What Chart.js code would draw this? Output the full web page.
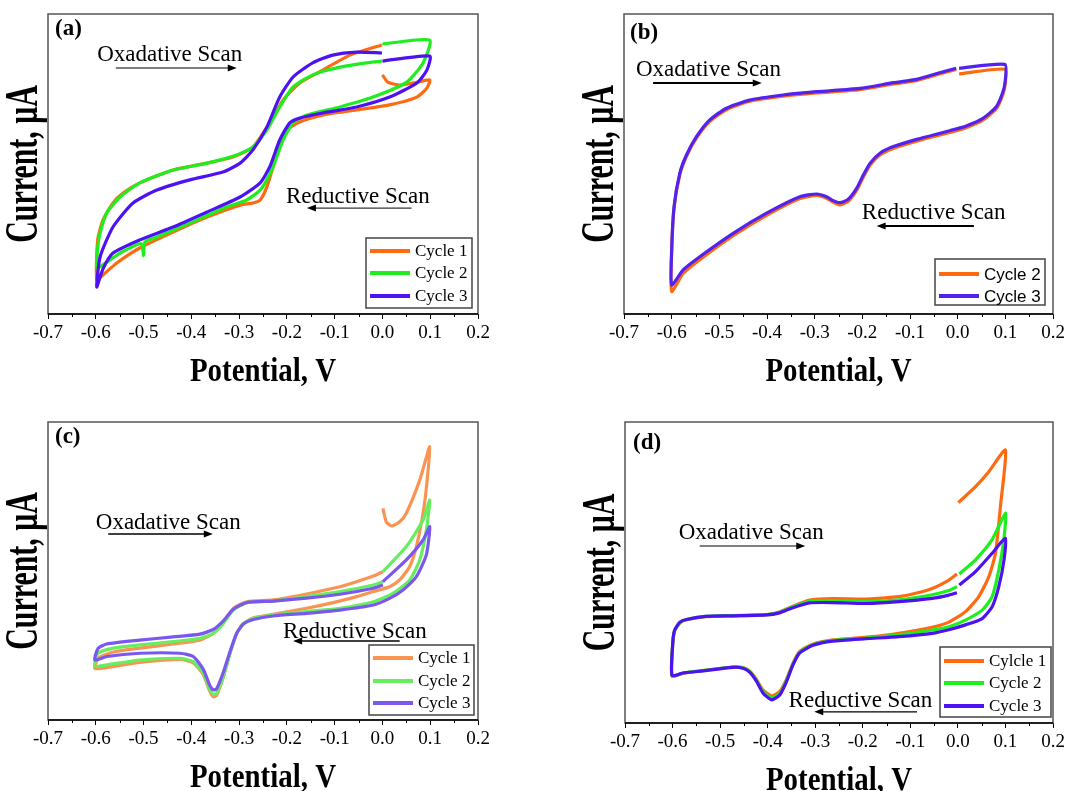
<!DOCTYPE html>
<html>
<head>
<meta charset="utf-8">
<script src="https://cdn.jsdelivr.net/npm/chart.js@4.4.1/dist/chart.umd.min.js"></script>
<style>
  body { margin: 0; background: #fff; width: 1069px; height: 791px; overflow: hidden; position: relative; }
  .panel { position: absolute; }
</style>
</head>
<body>
<div class="panel" style="left:0;top:0;width:540px;height:400px"><canvas id="chartA"></canvas></div>
<div class="panel" style="left:540px;top:0;width:529px;height:400px"><canvas id="chartB"></canvas></div>
<div class="panel" style="left:0;top:400px;width:540px;height:391px"><canvas id="chartC"></canvas></div>
<div class="panel" style="left:540px;top:400px;width:529px;height:391px"><canvas id="chartD"></canvas></div>
<script>
// x ticks (V)
const xTickMin = -0.7, xTickMax = 0.2, xTickStep = 0.1;

// ---- panel (a) ----
const aLabels = ['Cycle 1', 'Cycle 2', 'Cycle 3'];
const aCycle1V = [0.0, 0.011, 0.036, 0.064, 0.099, 0.093, 0.072, 0.015, -0.054, -0.125, -0.173, -0.200, -0.215, -0.229, -0.242, -0.256, -0.271, -0.298, -0.367, -0.438, -0.508, -0.556, -0.585, -0.598, -0.596, -0.585, -0.564, -0.543, -0.508, -0.438, -0.367, -0.313, -0.271, -0.236, -0.208, -0.173, -0.125, -0.068, -0.001];
const aCycle1I = [79.7, 77.3, 76.3, 77, 78, 75.3, 72.3, 69.7, 68, 66.3, 64, 61.3, 57, 49, 42.3, 38, 37, 36.3, 32.3, 27.3, 22, 17, 13, 11.3, 24.7, 31.3, 37, 40.3, 43.7, 48, 50.3, 52.3, 55.7, 63.7, 71.3, 77, 81.3, 86.3, 89.7];
const aCycle2V = [0.0, 0.099, 0.085, 0.051, -0.020, -0.089, -0.158, -0.187, -0.208, -0.229, -0.242, -0.256, -0.284, -0.326, -0.403, -0.472, -0.497, -0.500, -0.505, -0.549, -0.577, -0.598, -0.596, -0.591, -0.577, -0.549, -0.508, -0.438, -0.367, -0.305, -0.271, -0.242, -0.215, -0.187, -0.146, -0.089, -0.020, -0.001];
const aCycle2I = [90, 91.3, 83.7, 77.3, 72.3, 69, 66.3, 63.7, 58, 49, 44.7, 41.3, 38, 35.7, 30.3, 25.7, 24, 19.5, 23.5, 20.3, 17.3, 15.3, 22, 27, 33.7, 39, 43.7, 48, 50.3, 53, 55.7, 61.3, 69, 75.7, 79.7, 82.3, 84, 84.3];
const aCycle3V = [0.0, 0.099, 0.093, 0.072, 0.015, -0.054, -0.125, -0.173, -0.194, -0.215, -0.236, -0.256, -0.298, -0.367, -0.438, -0.508, -0.564, -0.585, -0.598, -0.591, -0.564, -0.522, -0.472, -0.403, -0.334, -0.298, -0.271, -0.242, -0.215, -0.187, -0.146, -0.104, -0.054, -0.001];
const aCycle3I = [84.3, 86, 81.3, 77, 72.3, 69, 67, 65.3, 63.7, 58, 49, 43.7, 39, 34, 29, 24.7, 20.3, 15, 9, 19, 29, 37, 41.3, 44.7, 47.3, 50.3, 54.7, 62.3, 72.3, 79, 83.7, 86.3, 87.3, 87];

// ---- panel (b) ----
const bLabels = ['Cycle 2', 'Cycle 3'];
const bCycle2V = [0.003, 0.099, 0.1, 0.095, 0.081, 0.053, 0.018, -0.017, -0.086, -0.135, -0.163, -0.184, -0.198, -0.212, -0.230, -0.247, -0.261, -0.275, -0.296, -0.331, -0.401, -0.471, -0.541, -0.576, -0.600, -0.600, -0.595, -0.583, -0.569, -0.548, -0.520, -0.485, -0.436, -0.366, -0.296, -0.205, -0.135, -0.086, -0.038, -0.003];
const bCycle2I = [80, 81.6, 77, 73.3, 68.4, 64.6, 62.1, 60.5, 57.6, 55.2, 53, 49.6, 45.6, 41.2, 37.5, 36.4, 37.2, 38.6, 39.5, 38.5, 32.9, 26.1, 18.1, 13.5, 7.5, 20.5, 35.3, 46.4, 52.5, 58.6, 64.2, 68.1, 70.9, 72.6, 73.7, 74.8, 76.7, 77.8, 80, 81.5];
const bCycle3V = [0.003, 0.099, 0.1, 0.095, 0.081, 0.053, 0.018, -0.017, -0.086, -0.135, -0.163, -0.184, -0.198, -0.212, -0.230, -0.247, -0.261, -0.275, -0.296, -0.331, -0.401, -0.471, -0.541, -0.576, -0.600, -0.600, -0.595, -0.583, -0.569, -0.548, -0.520, -0.485, -0.436, -0.366, -0.296, -0.205, -0.135, -0.086, -0.038, -0.003];
const bCycle3I = [81.9, 83.2, 78, 74.1, 69.1, 65.2, 62.7, 61.1, 58.2, 55.8, 53.6, 50.2, 46.3, 41.9, 38.2, 37.1, 37.8, 39.1, 40, 39.1, 33.6, 26.9, 19.1, 14.7, 9.7, 21.3, 35.8, 46.9, 53, 59.1, 64.7, 68.6, 71.3, 73, 74.1, 75.2, 77.1, 78.2, 80.4, 81.9];

// ---- panel (c) ----
const cLabels = ['Cycle 1', 'Cycle 2', 'Cycle 3'];
const cCycle1V = [0.001, 0.008, 0.019, 0.036, 0.050, 0.078, 0.099, 0.092, 0.085, 0.071, 0.057, 0.036, 0.015, -0.019, -0.054, -0.103, -0.159, -0.229, -0.270, -0.291, -0.305, -0.319, -0.333, -0.347, -0.354, -0.361, -0.375, -0.396, -0.424, -0.508, -0.577, -0.602, -0.595, -0.563, -0.508, -0.438, -0.382, -0.354, -0.333, -0.312, -0.284, -0.229, -0.159, -0.089, -0.054, -0.019, 0.001];
const cCycle1I = [71.0, 66.5, 65.1, 66.5, 69.4, 80.5, 91.7, 78, 69.4, 58.2, 51.5, 47.0, 44.7, 43.1, 41.4, 39.4, 37.5, 35.5, 34.3, 32.4, 29.1, 22.4, 14.5, 8.3, 7.8, 9.5, 15.2, 19.2, 20.3, 19.3, 17.6, 17.3, 20.7, 22.8, 24.1, 25.5, 26.8, 29.1, 32.9, 37.5, 39.7, 40.3, 42.3, 44.7, 46.4, 48.3, 49.8];
const cCycle2V = [0.001, 0.050, 0.085, 0.099, 0.092, 0.078, 0.057, 0.022, -0.019, -0.089, -0.159, -0.229, -0.270, -0.291, -0.305, -0.319, -0.333, -0.347, -0.354, -0.361, -0.375, -0.396, -0.424, -0.508, -0.577, -0.602, -0.595, -0.563, -0.508, -0.438, -0.382, -0.354, -0.333, -0.312, -0.284, -0.229, -0.159, -0.089, -0.019, 0.001];
const cCycle2I = [49.8, 58.2, 67.1, 73.8, 63.8, 53.7, 47.0, 42.5, 39.7, 37.5, 36.4, 35.2, 34.1, 32.4, 29.1, 22.4, 14.5, 9.0, 8.6, 10.1, 15.7, 19.6, 20.7, 20.1, 18.5, 18.1, 22.4, 24.1, 25.2, 26.3, 27.4, 29.1, 32.4, 36.9, 39.4, 39.9, 41.4, 43.1, 45.3, 46.4];
const cCycle3V = [0.001, 0.050, 0.085, 0.099, 0.092, 0.071, 0.043, 0.015, -0.019, -0.089, -0.159, -0.229, -0.270, -0.291, -0.305, -0.319, -0.333, -0.347, -0.354, -0.361, -0.375, -0.396, -0.424, -0.508, -0.577, -0.602, -0.595, -0.577, -0.508, -0.438, -0.382, -0.354, -0.333, -0.312, -0.284, -0.229, -0.159, -0.089, -0.019, 0.001];
const cCycle3I = [46.4, 53.7, 60.4, 64.9, 55.5, 48.1, 43.6, 40.8, 38.6, 36.9, 35.8, 34.9, 33.7, 32.2, 29.1, 23, 16, 10.5, 10.1, 11.5, 17, 21.3, 22.4, 22.4, 21.3, 20.1, 24.1, 25.5, 26.8, 27.9, 28.8, 30.4, 33.3, 37.2, 39.4, 39.9, 40.9, 42.2, 44.2, 45.3];

// ---- panel (d) ----
const dLabels = ['Cylcle 1', 'Cycle 2', 'Cycle 3'];
const dCycle1V = [0.001, 0.037, 0.065, 0.1, 0.090, 0.079, 0.065, 0.044, 0.016, -0.019, -0.054, -0.124, -0.193, -0.263, -0.305, -0.333, -0.347, -0.361, -0.375, -0.392, -0.410, -0.424, -0.438, -0.452, -0.473, -0.543, -0.578, -0.601, -0.600, -0.596, -0.585, -0.573, -0.531, -0.473, -0.403, -0.375, -0.347, -0.312, -0.263, -0.193, -0.124, -0.089, -0.054, -0.019, -0.002];
const dCycle1I = [73.2, 78.5, 83.5, 90.7, 72.8, 56.4, 48.6, 42.0, 37.0, 33.5, 31.8, 29.8, 28.5, 27.6, 26.2, 23.7, 19.8, 14.3, 10.4, 9.0, 11.0, 14.6, 17.3, 18.4, 18.6, 17.3, 16.5, 15.6, 25.4, 30.5, 33.2, 34.2, 35.3, 35.6, 35.9, 36.9, 38.8, 40.8, 41.3, 41.2, 42.0, 43.1, 44.7, 47.5, 49.5];
const dCycle2V = [0.003, 0.037, 0.072, 0.1, 0.097, 0.086, 0.072, 0.051, 0.016, -0.019, -0.054, -0.124, -0.193, -0.263, -0.305, -0.333, -0.347, -0.361, -0.375, -0.392, -0.410, -0.424, -0.438, -0.452, -0.473, -0.543, -0.578, -0.601, -0.600, -0.596, -0.585, -0.573, -0.531, -0.473, -0.403, -0.375, -0.347, -0.312, -0.263, -0.193, -0.124, -0.054, -0.019, -0.002];
const dCycle2I = [49.5, 54.2, 60.9, 69.7, 61.4, 50.8, 42.0, 37.5, 34.2, 32.0, 30.9, 29.3, 28.2, 27.4, 26.0, 23.4, 19.5, 13.9, 9.7, 8.3, 10.5, 14.3, 17.1, 18.3, 18.6, 17.3, 16.6, 15.6, 25.5, 30.6, 33.3, 34.3, 35.4, 35.7, 36.0, 36.8, 38.6, 40.4, 40.6, 40.3, 40.9, 42.6, 44.0, 45.3];
const dCycle3V = [0.003, 0.037, 0.072, 0.1, 0.097, 0.086, 0.072, 0.051, 0.016, -0.019, -0.054, -0.124, -0.193, -0.263, -0.305, -0.333, -0.347, -0.361, -0.375, -0.392, -0.410, -0.424, -0.438, -0.452, -0.473, -0.543, -0.578, -0.601, -0.600, -0.596, -0.585, -0.573, -0.531, -0.473, -0.403, -0.375, -0.347, -0.312, -0.263, -0.193, -0.124, -0.054, -0.019, -0.002];
const dCycle3I = [45.8, 50.3, 56.4, 61.4, 54.2, 45.3, 38.6, 34.7, 32.6, 31.0, 29.8, 28.7, 28.0, 27.2, 25.8, 23.2, 19.2, 13.5, 9.2, 7.7, 10.0, 14.0, 16.9, 18.2, 18.5, 17.2, 16.6, 15.8, 25.6, 30.7, 33.4, 34.3, 35.4, 35.6, 35.9, 36.6, 38.3, 39.9, 40.0, 39.7, 40.3, 41.4, 42.5, 43.3];

// colours
const strongColors = ['#ff6a10', '#1eee1e', '#4c12f2'];
const paleColors = ['#fa9452', '#66ee5e', '#7a58f0'];
const bColors = ['#ff6a10', '#5222ee'];

const serif = '"Liberation Serif", "Times New Roman", serif';
const sans = '"Liberation Sans", Arial, sans-serif';

function pts(xs, ys) {
  return xs.map((x, i) => ({ x: x, y: ys[i] }));
}

function drawStretched(ctx, text, x, y, font, sx, rot, align) {
  ctx.save();
  ctx.translate(x, y);
  if (rot) ctx.rotate(rot);
  ctx.scale(sx, 1);
  ctx.font = font;
  ctx.textAlign = align || 'center';
  ctx.textBaseline = 'middle';
  ctx.fillText(text, 0, 0);
  ctx.restore();
}

// frame, minor ticks, legend box, notes, axis titles
const panelDecor = {
  id: 'panelDecor',
  afterDraw(chart, args, o) {
    const { ctx, chartArea: a, scales: { x, y } } = chart;
    ctx.save();
    ctx.strokeStyle = '#555';
    ctx.lineWidth = 1.5;
    ctx.strokeRect(a.left, a.top, a.right - a.left, a.bottom - a.top);
    ctx.strokeStyle = '#000';
    ctx.beginPath();
    ctx.moveTo(a.left, a.bottom);
    ctx.lineTo(a.right, a.bottom);
    ctx.stroke();

    // minor ticks
    ctx.lineWidth = 1;
    for (let v = xTickMin + xTickStep / 2; v < xTickMax; v += xTickStep) {
      const px = Math.round(x.getPixelForValue(v)) + 0.5;
      ctx.beginPath();
      ctx.moveTo(px, a.bottom);
      ctx.lineTo(px, a.bottom + 3);
      ctx.stroke();
    }

    ctx.fillStyle = '#000';
    // notes with arrows
    o.notes.forEach(n => {
      drawStretched(ctx, n.text, x.getPixelForValue(n.x), y.getPixelForValue(n.y), '23px ' + serif, 1, 0, 'left');
      const x0 = x.getPixelForValue(n.from), x1 = x.getPixelForValue(n.to), py = y.getPixelForValue(n.ay);
      const dir = x1 > x0 ? 1 : -1;
      ctx.lineWidth = o.arrowWidth;
      ctx.beginPath();
      ctx.moveTo(x0, py);
      ctx.lineTo(x1 - dir * 6, py);
      ctx.stroke();
      ctx.beginPath();
      ctx.moveTo(x1, py);
      ctx.lineTo(x1 - dir * 9, py - 3.5);
      ctx.lineTo(x1 - dir * 9, py + 3.5);
      ctx.closePath();
      ctx.fill();
    });

    // tag
    drawStretched(ctx, o.tag, a.left + o.tagDx, a.top + o.tagDy, 'bold 23px ' + serif, 1, 0, 'left');

    // legend
    const L = o.legend;
    const bx = a.right - L.inR - L.w, by = a.bottom - L.inB - L.h;
    ctx.fillStyle = '#fff';
    ctx.fillRect(bx, by, L.w, L.h);
    ctx.strokeStyle = '#444';
    ctx.lineWidth = 1.5;
    ctx.strokeRect(bx, by, L.w, L.h);
    chart.data.datasets.forEach((ds, i) => {
      const ry = by + L.rows[i];
      ctx.strokeStyle = ds.borderColor;
      ctx.lineWidth = 4;
      ctx.beginPath();
      ctx.moveTo(bx + 4, ry);
      ctx.lineTo(bx + 44, ry);
      ctx.stroke();
      ctx.fillStyle = '#000';
      drawStretched(ctx, ds.label, bx + 49, ry + 1, L.font, 1, 0, 'left');
    });

    // axis titles
    ctx.fillStyle = '#000';
    drawStretched(ctx, o.xTitle, (a.left + a.right) / 2, a.bottom + 58, 'bold 34px ' + serif, 0.85, 0, 'center');
    drawStretched(ctx, o.yTitle, a.left - 23, (a.top + a.bottom) / 2, 'bold 46px ' + serif, 0.65, -Math.PI / 2, 'center');
    ctx.restore();
  }
};

function makePanel(id, series, colors, pad, xHeight, decor) {
  const datasets = series.map((s, i) => ({
    label: s.label,
    data: pts(s.v, s.i),
    borderColor: colors[i],
    backgroundColor: colors[i],
    borderWidth: 3.2,
    pointRadius: 0,
    tension: 0.2,
    borderJoinStyle: 'round',
    showLine: true,
    fill: false,
    order: series.length - i
  }));
  return new Chart(document.getElementById(id), {
    type: 'scatter',
    data: { datasets: datasets },
    options: {
      responsive: true,
      maintainAspectRatio: false,
      animation: false,
      layout: { padding: pad },
      plugins: {
        legend: { display: false },
        tooltip: { enabled: false },
        panelDecor: decor
      },
      scales: {
        x: {
          type: 'linear',
          min: xTickMin,
          max: xTickMax,
          afterFit: s => { s.height = xHeight; },
          border: { display: false },
          grid: { drawOnChartArea: false, drawTicks: true, tickLength: 5, color: '#000' },
          ticks: {
            stepSize: xTickStep,
            autoSkip: false,
            maxRotation: 0,
            padding: 3,
            color: '#000',
            font: { family: serif, size: 19 },
            callback: v => (Math.abs(v) < 1e-9 ? 0 : v).toFixed(1)
          }
        },
        y: { display: false, min: 0, max: 100 }
      }
    },
    plugins: [panelDecor]
  });
}

const xTitle = 'Potential, V';
const yTitle = 'Current, μA';

makePanel('chartA', [
  { label: aLabels[0], v: aCycle1V, i: aCycle1I },
  { label: aLabels[1], v: aCycle2V, i: aCycle2I },
  { label: aLabels[2], v: aCycle3V, i: aCycle3I }
], strongColors, { left: 48, top: 14, right: 62, bottom: 0 }, 86, {
  xTitle, yTitle, tag: '(a)', tagDx: 7, tagDy: 15, arrowWidth: 1,
  legend: { w: 106, h: 70, inR: 6, inB: 6, rows: [13, 35, 58], font: '17px ' + serif },
  notes: [
    { text: 'Oxadative Scan', x: -0.597, y: 86.5, from: -0.558, to: -0.305, ay: 82 },
    { text: 'Reductive Scan', x: -0.202, y: 39, from: 0.061, to: -0.158, ay: 35.3 }
  ]
});

makePanel('chartB', [
  { label: bLabels[0], v: bCycle2V, i: bCycle2I },
  { label: bLabels[1], v: bCycle3V, i: bCycle3I }
], bColors, { left: 84, top: 14, right: 16, bottom: 0 }, 86, {
  xTitle, yTitle, tag: '(b)', tagDx: 6, tagDy: 19, arrowWidth: 2,
  legend: { w: 110, h: 46, inR: 8, inB: 9, rows: [15, 37], font: '17px ' + sans },
  notes: [
    { text: 'Oxadative Scan', x: -0.675, y: 81.3, from: -0.639, to: -0.411, ay: 77 },
    { text: 'Reductive Scan', x: -0.201, y: 33.7, from: 0.034, to: -0.170, ay: 29.3 }
  ]
});

makePanel('chartC', [
  { label: cLabels[0], v: cCycle1V, i: cCycle1I },
  { label: cLabels[1], v: cCycle2V, i: cCycle2I },
  { label: cLabels[2], v: cCycle3V, i: cCycle3I }
], paleColors, { left: 48, top: 22, right: 62, bottom: 0 }, 71, {
  xTitle, yTitle, tag: '(c)', tagDx: 7, tagDy: 15, arrowWidth: 1.5,
  legend: { w: 105, h: 70, inR: 4, inB: 5, rows: [13, 36, 58], font: '17px ' + serif },
  notes: [
    { text: 'Oxadative Scan', x: -0.600, y: 66.1, from: -0.574, to: -0.355, ay: 62.4 },
    { text: 'Reductive Scan', x: -0.208, y: 29.5, from: 0.036, to: -0.187, ay: 26.5 }
  ]
});

makePanel('chartD', [
  { label: dLabels[0], v: dCycle1V, i: dCycle1I },
  { label: dLabels[1], v: dCycle2V, i: dCycle2I },
  { label: dLabels[2], v: dCycle3V, i: dCycle3I }
], strongColors, { left: 85, top: 22, right: 16, bottom: 0 }, 68, {
  xTitle, yTitle, tag: '(d)', tagDx: 8, tagDy: 21, arrowWidth: 1.2,
  legend: { w: 111, h: 70, inR: 2, inB: 6, rows: [14, 36, 59], font: '17px ' + serif },
  notes: [
    { text: 'Oxadative Scan', x: -0.587, y: 63.1, from: -0.543, to: -0.321, ay: 58.8 },
    { text: 'Reductive Scan', x: -0.356, y: 7.3, from: -0.086, to: -0.302, ay: 3.7 }
  ]
});
</script>
</body>
</html>
